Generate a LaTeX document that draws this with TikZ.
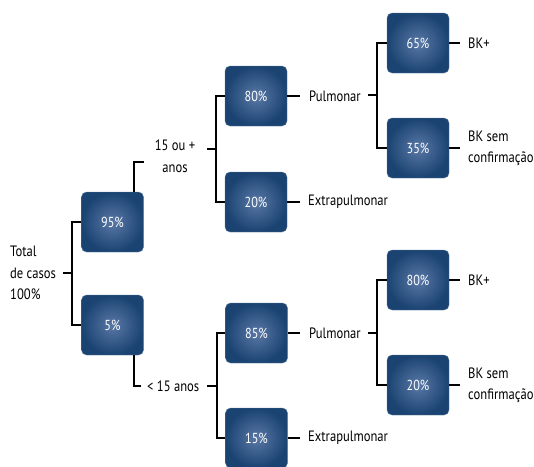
\documentclass[tikz,border=0pt]{standalone}
\usepackage{fontspec}
\setmainfont{PT Sans}[FakeStretch=0.84]
\usetikzlibrary{positioning}
\definecolor{navy}{HTML}{1A4372}
\definecolor{navylight}{HTML}{5A78A6}
\tikzset{
  pct/.style={rounded corners=5pt, minimum width=62pt, minimum height=60pt,
    inner sep=0pt, inner color=navylight, outer color=navy,
    draw=navy!70!white, line width=0.4pt, text=white, font=\fontsize{14.5}{16}\selectfont},
  lbl/.style={inner sep=0pt, font=\fontsize{15}{21.5}\selectfont, align=left},
  wire/.style={line width=1.8pt, black},
}
\begin{document}
\begin{tikzpicture}[x=1pt, y=-1pt]
\useasboundingbox (0,0) rectangle (534,466);
% percentage boxes
\node[pct] (b95) at (112.5,222) {95\%};
\node[pct] (b5)  at (112.5,325) {5\%};
\node[pct] (b80) at (256,96)  {80\%};
\node[pct] (b20) at (256,202) {20\%};
\node[pct] (b85) at (256.5,333) {85\%};
\node[pct] (b15) at (256.5,438) {15\%};
\node[pct] (b65) at (418,43)  {65\%};
\node[pct] (b35) at (418,148) {35\%};
\node[pct] (c80) at (418,280) {80\%};
\node[pct] (c20) at (418,385) {20\%};
% labels
\node[lbl, anchor=west] (total) at (10,273) {Total\\de casos\\100\%};
\node[lbl, align=center] (adult) at (175,156) {15 ou +\\anos};
\node[lbl, anchor=west] (child) at (147,386) {< 15 anos};
\node[lbl, anchor=west] (pulA) at (309,96) {Pulmonar};
\node[lbl, anchor=west] (extA) at (308,202) {Extrapulmonar};
\node[lbl, anchor=west] (pulB) at (309,333) {Pulmonar};
\node[lbl, anchor=west] (extB) at (308,438) {Extrapulmonar};
\node[lbl, anchor=west] (bkA) at (468,43) {BK+};
\node[lbl, anchor=west] (bksA) at (468,148) {BK sem\\confirmação};
\node[lbl, anchor=west] (bkB) at (468,280) {BK+};
\node[lbl, anchor=west] (bksB) at (468,385) {BK sem\\confirmação};
% junction points
\coordinate (j0) at (72,273);
\coordinate (j1) at (216,149);
\coordinate (j2) at (217,386);
\coordinate (j3) at (377,95);
\coordinate (j4) at (377,333);
% connectors
\draw[wire] (63,273) -- (j0);
\draw[wire] (b95.west) -| (j0) |- (b5.west);
\draw[wire] (b95.north -| 134,0) |- (144,162);
\draw[wire] (207,149) -- (j1);
\draw[wire] (b80.west) -| (j1) |- (b20.west);
\draw[wire] (b5.south -| 134,0) |- (141,386);
\draw[wire] (207,386) -- (j2);
\draw[wire] (b85.west) -| (j2) |- (b15.west);
\draw[wire] (b80.east) -- ([xshift=-9pt]pulA.west);
\draw[wire] (b20.east) -- ([xshift=-8pt]extA.west);
\draw[wire] (b85.east) -- ([xshift=-9pt]pulB.west);
\draw[wire] (b15.east) -- ([xshift=-8pt]extB.west);
\draw[wire] (368,95) -- (j3);
\draw[wire] (b65.west) -| (j3) |- (b35.west);
\draw[wire] (368,333) -- (j4);
\draw[wire] (c80.west) -| (j4) |- (c20.west);
\draw[wire] (b65.east) -- ([xshift=-8pt]bkA.west);
\draw[wire] (b35.east) -- ([xshift=-8pt]bksA.west);
\draw[wire] (c80.east) -- ([xshift=-8pt]bkB.west);
\draw[wire] (c20.east) -- ([xshift=-8pt]bksB.west);
\end{tikzpicture}
\end{document}
